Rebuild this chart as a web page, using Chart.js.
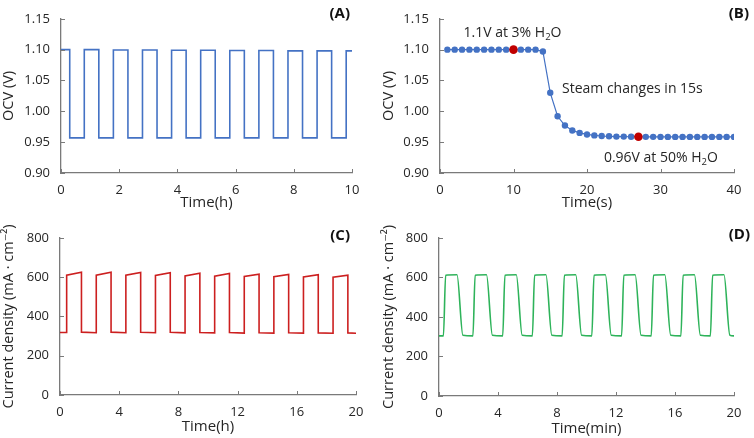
<!DOCTYPE html>
<html>
<head>
<meta charset="utf-8">
<script src="https://cdn.jsdelivr.net/npm/chart.js@4.4.0/dist/chart.umd.min.js"></script>
<style>
  body { margin: 0; background: #fff; }
  .panel { position: absolute; width: 377px; height: 219px; }
</style>
</head>
<body>
<div class="panel" style="left:0;top:0"><canvas id="chartA" width="377" height="219"></canvas></div>
<div class="panel" style="left:377px;top:0"><canvas id="chartB" width="377" height="219"></canvas></div>
<div class="panel" style="left:0;top:219px"><canvas id="chartC" width="377" height="219"></canvas></div>
<div class="panel" style="left:377px;top:219px"><canvas id="chartD" width="377" height="219"></canvas></div>
<script>
// (A) OCV vs time(h): times where the steam switches, and the level held in each segment
const switchA = [0, 0.3, 0.8, 1.3, 1.8, 2.3, 2.8, 3.3, 3.8, 4.3, 4.8, 5.3, 5.8, 6.3, 6.8, 7.3, 7.8, 8.3, 8.8, 9.3, 9.8, 10];
const ocvA = [1.100, 0.957, 1.100, 0.957, 1.0995, 0.957, 1.0995, 0.957, 1.099, 0.957, 1.099,
              0.957, 1.0985, 0.957, 1.0985, 0.957, 1.098, 0.957, 1.098, 0.957, 1.098];

// (B) OCV vs time(s), one point per second
const timeB = [1, 2, 3, 4, 5, 6, 7, 8, 9, 10, 11, 12, 13, 14, 15, 16, 17, 18, 19, 20,
               21, 22, 23, 24, 25, 26, 27, 28, 29, 30, 31, 32, 33, 34, 35, 36, 37, 38, 39, 40];
const ocvB = [1.100, 1.100, 1.100, 1.100, 1.100, 1.100, 1.100, 1.100, 1.100, 1.100,
              1.100, 1.100, 1.100, 1.097, 1.030, 0.992, 0.977, 0.969, 0.965, 0.9625,
              0.961, 0.960, 0.9595, 0.959, 0.959, 0.9588, 0.9588, 0.9586, 0.9586, 0.9585,
              0.9585, 0.9585, 0.9585, 0.9585, 0.9585, 0.9585, 0.9585, 0.9585, 0.9585, 0.9585];
const markedB = [10, 27];   // the two red points

// (C) current density vs time(h): segment switch times, value at start and end of each segment
const switchC = [0, 0.45, 1.45, 2.45, 3.45, 4.45, 5.45, 6.45, 7.45, 8.45, 9.45, 10.45,
                 11.45, 12.45, 13.45, 14.45, 15.45, 16.45, 17.45, 18.45, 19.45, 20];
const startC = [318, 610, 320, 610, 320, 610, 319, 608, 319, 606, 318, 605, 318, 603, 317, 602, 317, 601, 316, 600, 316];
const endC   = [318, 625, 317, 625, 317, 624, 317, 622, 316, 620, 316, 618, 315, 615, 315, 614, 315, 612, 314, 610, 314];

// (D) current density vs time(min), corner points of the smooth wave
const timeD = [0, 0.3, 0.45, 1.22, 1.62, 2.3, 2.45, 3.22, 3.62, 4.32, 4.47, 5.24, 5.64,
               6.33, 6.48, 7.25, 7.65, 8.35, 8.5, 9.27, 9.67, 10.36, 10.51, 11.28, 11.68,
               12.38, 12.53, 13.3, 13.7, 14.39, 14.54, 15.31, 15.71, 16.4, 16.55, 17.32, 17.72,
               18.4, 18.55, 19.32, 19.72, 20];
const currentD = [304, 304, 611, 613, 307, 304, 611, 613, 307, 304, 611, 613, 307,
                  304, 611, 613, 307, 304, 611, 613, 307, 304, 611, 613, 307,
                  304, 611, 613, 307, 304, 611, 613, 307, 304, 611, 613, 307,
                  304, 611, 613, 307, 304];

const FONT = "'Open Sans', 'DejaVu Sans', sans-serif";
const TEXT = '#262626';
const AXIS = '#7a7a7a';

function segments(times, from, to) {
  const pts = [];
  for (let i = 0; i < from.length; i++) {
    pts.push({ x: times[i], y: from[i] });
    pts.push({ x: times[i + 1], y: to[i] });
  }
  return pts;
}
function pairs(xs, ys) {
  return xs.map((x, i) => ({ x: x, y: ys[i] }));
}

// draws inner tick marks, the panel letter and text notes (with subscripts)
function decor(letter, lx, ly, notes) {
  return {
    id: 'decor' + letter,
    afterDraw(chart) {
      const ctx = chart.ctx, a = chart.chartArea;
      const xs = chart.scales.x, ys = chart.scales.y;
      ctx.save();
      ctx.strokeStyle = AXIS;
      ctx.lineWidth = 1;
      ctx.beginPath();
      xs.ticks.forEach(t => {
        const p = Math.round(xs.getPixelForValue(t.value)) + 0.5;
        ctx.moveTo(p, a.bottom); ctx.lineTo(p, a.bottom - 4);
      });
      ys.ticks.forEach(t => {
        const p = Math.round(ys.getPixelForValue(t.value)) + 0.5;
        ctx.moveTo(a.left, p); ctx.lineTo(a.left + 4, p);
      });
      ctx.stroke();

      ctx.fillStyle = '#111';
      ctx.font = 'bold 15px ' + FONT;
      ctx.textAlign = 'right';
      ctx.textBaseline = 'middle';
      ctx.fillText(letter, lx, ly);

      ctx.textAlign = 'left';
      (notes || []).forEach(n => {
        let x = xs.getPixelForValue(n.x);
        const y = ys.getPixelForValue(n.y);
        n.parts.forEach(p => {
          ctx.font = (p[1] ? '9.5px ' : '14px ') + FONT;
          ctx.fillStyle = TEXT;
          ctx.fillText(p[0], x, p[1] ? y + 4 : y);
          x += ctx.measureText(p[0]).width;
        });
      });
      ctx.restore();
    }
  };
}

function axes(o) {
  return {
    x: {
      type: 'linear', min: o.xmin, max: o.xmax,
      grid: { drawOnChartArea: false, drawTicks: false },
      border: { color: AXIS, width: 1.3 },
      ticks: { stepSize: o.xstep, color: TEXT, padding: 9, font: { family: FONT, size: 13 } },
      title: { display: true, text: o.xtitle, color: TEXT, padding: { top: 0, bottom: o.xtpad },
               font: { family: FONT, size: 15 } },
      afterFit: s => { s.height = o.xh; }
    },
    y: {
      type: 'linear', min: o.ymin, max: o.ymax,
      grid: { drawOnChartArea: false, drawTicks: false },
      border: { color: AXIS, width: 1.3 },
      ticks: { stepSize: o.ystep, color: TEXT, padding: 11, font: { family: FONT, size: 13 },
               callback: v => o.ydec ? v.toFixed(o.ydec) : v },
      title: { display: true, text: o.ytitle, color: TEXT, padding: { top: o.ytpad, bottom: 0 },
               font: { family: FONT, size: o.ytsize } },
      afterFit: s => { s.width = o.yw; }
    }
  };
}

function makeChart(id, datasets, o, plugin) {
  return new Chart(document.getElementById(id), {
    type: 'scatter',
    data: { datasets: datasets },
    options: {
      responsive: false,
      animation: false,
      layout: { padding: { left: 0, top: o.top, right: o.right, bottom: 0 } },
      plugins: { legend: { display: false }, tooltip: { enabled: false } },
      scales: axes(o)
    },
    plugins: [plugin]
  });
}

makeChart('chartA', [{
  data: segments(switchA, ocvA, ocvA),
  showLine: true, borderColor: '#4472C4', borderWidth: 1.6, pointRadius: 0
}], { xmin: 0, xmax: 10, xstep: 2, ymin: 0.9, ymax: 1.15, ystep: 0.05, ydec: 2,
      xtitle: 'Time(h)', ytitle: 'OCV (V)', ytsize: 14.5, top: 7, right: 25, xh: 46, yw: 61, xtpad: 7, ytpad: 0 },
  decor('(A)', 350, 14));

makeChart('chartB', [{
  data: pairs(timeB, ocvB),
  showLine: true, borderColor: '#4472C4', borderWidth: 1.2,
  pointBorderWidth: 0,
  pointRadius: c => markedB.includes(timeB[c.dataIndex]) ? 4.3 : 3.2,
  pointBackgroundColor: c => markedB.includes(timeB[c.dataIndex]) ? '#C00000' : '#4472C4'
}], { xmin: 0, xmax: 40, xstep: 10, ymin: 0.9, ymax: 1.15, ystep: 0.05, ydec: 2,
      xtitle: 'Time(s)', ytitle: 'OCV (V)', ytsize: 14.5, top: 7, right: 20, xh: 46, yw: 63, xtpad: 7, ytpad: 3 },
  decor('(B)', 372, 14, [
    { x: 3.2, y: 1.127, parts: [['1.1V at 3% H'], ['2', true], ['O']] },
    { x: 16.6, y: 1.0356, parts: [['Steam changes in 15s']] },
    { x: 22.3, y: 0.924, parts: [['0.96V at 50% H'], ['2', true], ['O']] }
  ]));

makeChart('chartC', [{
  data: segments(switchC, startC, endC),
  showLine: true, borderColor: '#CC1F1F', borderWidth: 1.6, pointRadius: 0
}], { xmin: 0, xmax: 20, xstep: 4, ymin: 0, ymax: 800, ystep: 200,
      xtitle: 'Time(h)', ytitle: 'Current density (mA · cm⁻²)', ytsize: 14.5, top: 10, right: 21, xh: 43, yw: 60, xtpad: 2, ytpad: 0 },
  decor('(C)', 350, 17));

makeChart('chartD', [{
  data: pairs(timeD, currentD),
  showLine: true, borderColor: '#2EB35A', borderWidth: 1.6, pointRadius: 0,
  cubicInterpolationMode: 'monotone'
}], { xmin: 0, xmax: 20, xstep: 4, ymin: 0, ymax: 800, ystep: 200,
      xtitle: 'Time(min)', ytitle: 'Current density (mA · cm⁻²)', ytsize: 14.5, top: 13, right: 20, xh: 42, yw: 62, xtpad: 0, ytpad: 3 },
  decor('(D)', 373, 16));
</script>
</body>
</html>
